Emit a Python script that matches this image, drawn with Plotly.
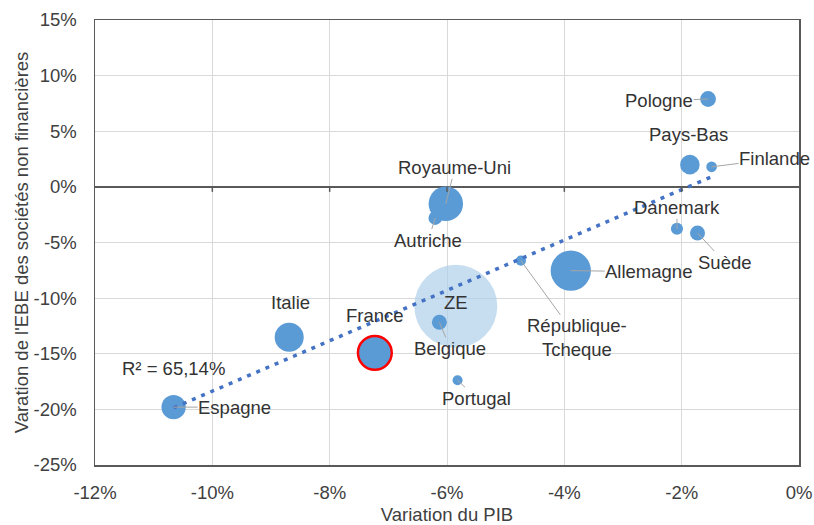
import numpy as np
import plotly.graph_objects as go

# ---- data ----
pays = ["Pologne", "Pays-Bas", "Finlande", "Danemark", "Suède", "Allemagne",
        "République-<br>Tcheque", "Royaume-Uni", "Autriche", "Belgique", "Portugal",
        "France", "Italie", "Espagne"]
var_pib = [-1.55, -1.86, -1.49, -2.08, -1.73, -3.89, -4.74, -6.02, -6.20, -6.13,
           -5.82, -7.23, -8.69, -10.66]
var_ebe = [7.9, 2.0, 1.8, -3.76, -4.15, -7.53, -6.63, -1.52, -2.8, -12.17,
           -17.38, -14.92, -13.52, -19.8]
pib = [530, 810, 240, 310, 475, 3440, 220, 2520, 398, 475, 212, 2420, 1790, 1245]

ze_label = "ZE"
ze_pib_var = [-5.85]
ze_ebe_var = [-10.73]
ze_pib = [14600]

x_ticks = [-12, -10, -8, -6, -4, -2, 0]
x_labels = ["-12%", "-10%", "-8%", "-6%", "-4%", "-2%", "0%"]
y_ticks = [-25, -20, -15, -10, -5, 0, 5, 10, 15]
y_labels = ["-25%", "-20%", "-15%", "-10%", "-5%", "0%", "5%", "10%", "15%"]
r2_label = "R² = 65,14%"

# ---- styling ----
FONT = "Liberation Sans, Arial, sans-serif"
FS = 18.5
TXT = "#333333"
TICK = "#404040"
BLUE = "#5B9BD5"
LIGHT = "#AFD0EA"
LEADER = "#A6A6A6"
AXIS = "#595959"

# label offsets (pixels, text centre relative to bubble centre) and leader flag
label_style = {
    "Pologne": (-49, 2, True),
    "Pays-Bas": (-1, -30, False),
    "Finlande": (63, -8, True),
    "Danemark": (0, -21, True),
    "Suède": (27, 29, True),
    "Allemagne": (78, 1, True),
    "République-<br>Tcheque": (56, 77, True),
    "Royaume-Uni": (9, -36, True),
    "Autriche": (-7, 22, True),
    "Belgique": (11, 26, True),
    "Portugal": (19, 18, True),
    "France": (0, -37, False),
    "Italie": (1, -35, False),
    "Espagne": (61, 0, True),
    "ZE": (0, -4, False),
}

all_x = var_pib + ze_pib_var
all_y = var_ebe + ze_ebe_var
max_size = max(pib + ze_pib)
sizeref = 2.0 * max_size / (83 ** 2)

fig = go.Figure()

fig.add_trace(go.Scatter(
    x=ze_pib_var, y=ze_ebe_var, mode="markers",
    marker=dict(size=ze_pib, sizemode="area", sizeref=sizeref, color=LIGHT,
                line=dict(width=0)),
    hoverinfo="skip", showlegend=False))

line_col = ["red" if p == "France" else "rgba(0,0,0,0)" for p in pays]
line_w = [2.5 if p == "France" else 0 for p in pays]
fig.add_trace(go.Scatter(
    x=var_pib, y=var_ebe, mode="markers",
    marker=dict(size=pib, sizemode="area", sizeref=sizeref, color=BLUE,
                line=dict(width=line_w, color=line_col), opacity=1),
    hoverinfo="skip", showlegend=False))

# linear trend (OLS on all points)
a, b = np.polyfit(all_x, all_y, 1)
tx = np.array([min(all_x), max(all_x)])
fig.add_trace(go.Scatter(
    x=tx, y=a * tx + b, mode="lines",
    line=dict(color="#4472C4", width=3.5, dash="4px,6px"),
    hoverinfo="skip", showlegend=False))

names = pays + [ze_label]
for name, xv, yv in zip(names, all_x, all_y):
    ax, ay, leader = label_style[name]
    fig.add_annotation(
        x=xv, y=yv, text=name, showarrow=True, ax=ax, ay=ay,
        axref="pixel", ayref="pixel", arrowhead=0, arrowwidth=1,
        arrowcolor=LEADER if leader else "rgba(0,0,0,0)",
        font=dict(family=FONT, size=FS, color=TXT), borderpad=0)

fig.add_annotation(x=-10.67, y=-16.3, text=r2_label, showarrow=False,
                   font=dict(family=FONT, size=FS, color=TXT))

# small tick marks on the horizontal axis crossing at 0
for xv in x_ticks[1:-1]:
    fig.add_shape(type="line", xref="x", yref="y", ysizemode="pixel", yanchor=0,
                  x0=xv, x1=xv, y0=0, y1=-5, line=dict(color=AXIS, width=1.5))

fig.update_layout(
    width=814, height=525,
    margin=dict(l=95, r=15, t=20, b=60),
    paper_bgcolor="white", plot_bgcolor="white",
    font=dict(family=FONT, size=FS, color=TICK),
    xaxis=dict(range=[-12, 0], tickvals=x_ticks, ticktext=x_labels,
               showgrid=True, gridcolor="#D9D9D9", gridwidth=1,
               showline=True, mirror=True, linecolor=AXIS, linewidth=1.5,
               zeroline=False, ticks="", ticklabelstandoff=10,
               tickfont=dict(family=FONT, size=FS, color=TICK),
               title=dict(text="Variation du PIB", standoff=6,
                          font=dict(family=FONT, size=FS, color=TICK)),
               automargin=False, fixedrange=True),
    yaxis=dict(range=[-25, 15], tickvals=y_ticks, ticktext=y_labels,
               showgrid=True, gridcolor="#D9D9D9", gridwidth=1,
               showline=True, mirror=True, linecolor=AXIS, linewidth=1.5,
               zeroline=True, zerolinecolor=AXIS, zerolinewidth=1.5,
               ticks="", ticklabelstandoff=13,
               tickfont=dict(family=FONT, size=FS, color=TICK),
               title=dict(text="Varation de l'EBE des sociétés non financières",
                          standoff=0, font=dict(family=FONT, size=FS, color=TICK)),
               automargin=False, fixedrange=True),
)

fig.write_html("out.html",
               config={"displayModeBar": False, "staticPlot": True},
               post_script="document.body.style.margin='0';"
                           "document.body.style.overflow='hidden';")
